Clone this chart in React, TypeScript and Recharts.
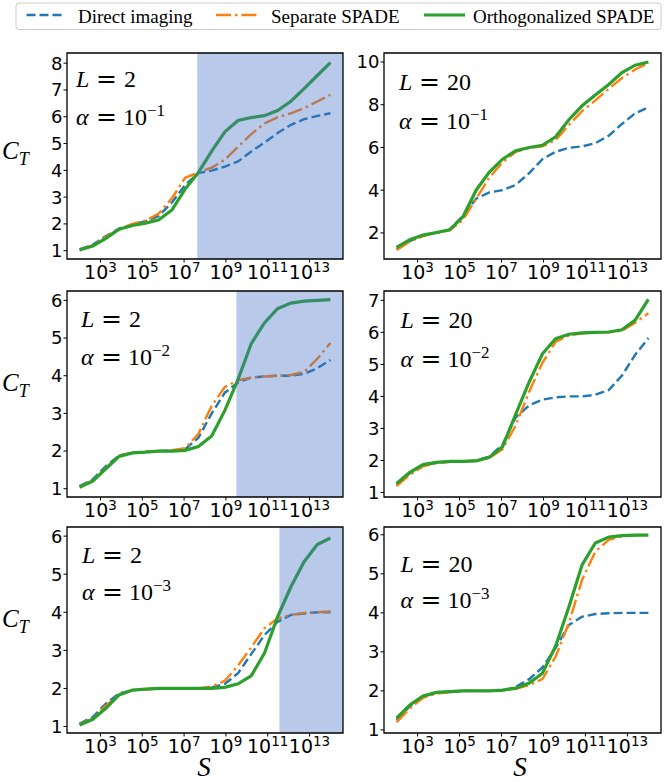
import React from "react";
import { LineChart, Line, XAxis, YAxis, ReferenceArea } from "recharts";

// log10(S) sample points
const logS = [2.0, 2.63, 3.26, 3.89, 4.53, 5.16, 5.79, 6.42, 7.05, 7.68, 8.32, 8.95, 9.58, 10.21, 10.84, 11.47, 12.11, 12.74, 13.37, 14.0];
const xTickExps = [3, 5, 7, 9, 11, 13];
const xDomain: [number, number] = [1.4, 14.6];

// L = 2, alpha = 1e-1
const directL2a1 = [1.05, 1.22, 1.55, 1.82, 1.98, 2.1, 2.3, 2.8, 3.45, 3.9, 3.99, 4.14, 4.33, 4.7, 5.03, 5.39, 5.7, 5.91, 6.03, 6.13];
const separateL2a1 = [1.05, 1.2, 1.52, 1.8, 2.0, 2.12, 2.39, 2.96, 3.72, 3.92, 4.1, 4.4, 4.88, 5.35, 5.75, 5.98, 6.13, 6.32, 6.57, 6.82];
const orthoL2a1 = [1.03, 1.17, 1.46, 1.8, 1.94, 2.03, 2.15, 2.52, 3.3, 3.92, 4.72, 5.44, 5.86, 5.97, 6.04, 6.23, 6.58, 7.05, 7.54, 8.02];

// L = 20, alpha = 1e-1
const directL20a1 = [1.25, 1.62, 1.87, 2.0, 2.15, 2.8, 3.6, 3.9, 4.0, 4.25, 4.8, 5.45, 5.8, 5.98, 6.05, 6.2, 6.55, 7.1, 7.6, 7.88];
const separateL20a1 = [1.2, 1.6, 1.85, 2.0, 2.12, 2.6, 3.6, 4.6, 5.3, 5.8, 5.98, 6.05, 6.35, 7.05, 7.7, 8.2, 8.75, 9.25, 9.65, 9.95];
const orthoL20a1 = [1.32, 1.68, 1.9, 2.02, 2.15, 2.75, 4.0, 4.85, 5.45, 5.85, 6.0, 6.1, 6.5, 7.3, 7.95, 8.45, 8.95, 9.5, 9.85, 10.0];

// L = 2, alpha = 1e-2
const directL2a2 = [1.07, 1.25, 1.6, 1.88, 1.95, 1.98, 2.0, 2.01, 2.05, 2.35, 3.0, 3.55, 3.82, 3.95, 3.98, 4.0, 4.0, 4.05, 4.2, 4.42];
const separateL2a2 = [1.05, 1.22, 1.55, 1.88, 1.95, 1.98, 2.0, 2.02, 2.08, 2.45, 3.2, 3.7, 3.88, 3.95, 3.98, 4.0, 4.02, 4.1, 4.45, 4.87];
const orthoL2a2 = [1.04, 1.2, 1.53, 1.86, 1.95, 1.97, 2.0, 2.0, 2.02, 2.12, 2.4, 3.08, 3.9, 4.85, 5.4, 5.78, 5.93, 5.98, 6.0, 6.02];

// L = 20, alpha = 1e-2
const directL20a2 = [1.25, 1.6, 1.85, 1.93, 1.96, 1.97, 2.0, 2.12, 2.5, 3.35, 3.72, 3.9, 3.97, 4.0, 4.0, 4.05, 4.2, 4.65, 5.3, 5.82];
const separateL20a2 = [1.2, 1.55, 1.82, 1.92, 1.96, 1.97, 1.99, 2.08, 2.35, 3.1, 4.15, 5.05, 5.7, 5.9, 5.97, 6.0, 6.0, 6.05, 6.3, 6.6];
const orthoL20a2 = [1.28, 1.63, 1.87, 1.94, 1.97, 1.97, 1.99, 2.1, 2.43, 3.45, 4.45, 5.33, 5.8, 5.94, 5.98, 6.0, 6.01, 6.08, 6.38, 7.03];

// L = 2, alpha = 1e-3
const directL2a3 = [1.08, 1.25, 1.6, 1.87, 1.95, 1.98, 2.0, 2.0, 2.0, 2.0, 2.03, 2.12, 2.4, 2.9, 3.4, 3.75, 3.93, 3.97, 4.0, 4.0];
const separateL2a3 = [1.07, 1.2, 1.55, 1.85, 1.95, 1.98, 2.0, 2.0, 2.0, 2.0, 2.05, 2.2, 2.6, 3.08, 3.58, 3.84, 3.93, 3.98, 4.0, 4.02];
const orthoL2a3 = [1.04, 1.19, 1.48, 1.83, 1.96, 1.98, 2.0, 2.0, 2.0, 2.0, 2.0, 2.03, 2.12, 2.33, 2.92, 3.88, 4.67, 5.33, 5.78, 5.95];

// L = 20, alpha = 1e-3
const directL20a3 = [1.25, 1.6, 1.85, 1.95, 1.98, 2.0, 2.0, 2.0, 2.0, 2.1, 2.3, 2.6, 3.1, 3.69, 3.9, 3.97, 3.99, 4.0, 4.0, 4.0];
const separateL20a3 = [1.2, 1.55, 1.82, 1.93, 1.97, 2.0, 2.0, 2.0, 2.0, 2.05, 2.15, 2.3, 2.88, 3.74, 4.85, 5.57, 5.87, 5.96, 5.99, 6.0];
const orthoL20a3 = [1.3, 1.64, 1.87, 1.96, 1.98, 2.0, 2.0, 2.0, 2.02, 2.07, 2.2, 2.45, 3.15, 4.15, 5.23, 5.79, 5.94, 5.98, 5.99, 5.99];

const seriesNames = ["Direct imaging", "Separate SPADE", "Orthogonalized SPADE"];
const BLUE = "#1f77b4";
const ORANGE = "#ff7f0e";
const GREEN = "#2ca02c";
const SERIF = "'Liberation Serif', 'DejaVu Serif', serif";

const BOX_H = 206;

const panels = [
  { left: 67, top: 53, w: 276, L: "2", exp: "\u22121", direct: directL2a1, separate: separateL2a1, ortho: orthoL2a1, yDomain: [0.69, 8.38], yTicks: [1, 2, 3, 4, 5, 6, 7, 8], shadeFrom: 7.63, tx: 76, tyL: 86.7, tyA: 125 },
  { left: 384, top: 53, w: 277, L: "20", exp: "\u22121", direct: directL20a1, separate: separateL20a1, ortho: orthoL20a1, yDomain: [0.78, 10.42], yTicks: [2, 4, 6, 8, 10], shadeFrom: null, tx: 399, tyL: 90, tyA: 129.3 },
  { left: 67, top: 291, w: 276, L: "2", exp: "\u22122", direct: directL2a2, separate: separateL2a2, ortho: orthoL2a2, yDomain: [0.78, 6.25], yTicks: [1, 2, 3, 4, 5, 6], shadeFrom: 9.5, tx: 81, tyL: 327.3, tyA: 365 },
  { left: 384, top: 291, w: 277, L: "20", exp: "\u22122", direct: directL20a2, separate: separateL20a2, ortho: orthoL20a2, yDomain: [0.86, 7.29], yTicks: [1, 2, 3, 4, 5, 6, 7], shadeFrom: null, tx: 400.5, tyL: 328.3, tyA: 366.7 },
  { left: 67, top: 527, w: 276, L: "2", exp: "\u22123", direct: directL2a3, separate: separateL2a3, ortho: orthoL2a3, yDomain: [0.83, 6.24], yTicks: [1, 2, 3, 4, 5, 6], shadeFrom: 11.56, tx: 82, tyL: 563.3, tyA: 600 },
  { left: 384, top: 527, w: 277, L: "20", exp: "\u22123", direct: directL20a3, separate: separateL20a3, ortho: orthoL20a3, yDomain: [0.92, 6.2], yTicks: [1, 2, 3, 4, 5, 6], shadeFrom: null, tx: 400.5, tyL: 571.7, tyA: 608.3 },
];

function LogTick(props: any) {
  const { x, y, payload } = props;
  return (
    <text x={x} y={y + 14.5} textAnchor="middle" fontFamily="DejaVu Sans" fontSize={19} fill="#000">
      10
      <tspan dy={-7.5} fontSize={13.5}>
        {payload.value}
      </tspan>
    </text>
  );
}

function Panel({ p }: { p: (typeof panels)[number] }) {
  const rows = logS.map((s, i) => ({
    logS: s,
    direct: p.direct[i],
    separate: p.separate[i],
    ortho: p.ortho[i],
  }));
  const axisW = 60;
  return (
    <div style={{ position: "absolute", left: p.left - axisW, top: p.top - 5 }}>
      <LineChart width={p.w + axisW + 10} height={BOX_H + 5 + 30} data={rows} margin={{ top: 5, right: 10, left: 0, bottom: 0 }}>
        <XAxis
          type="number"
          dataKey="logS"
          domain={xDomain}
          ticks={xTickExps}
          allowDataOverflow
          axisLine={false}
          tickLine={{ stroke: "#000" }}
          tickSize={3.5}
          tickMargin={2}
          tick={<LogTick />}
          height={30}
          interval={0}
        />
        <YAxis
          type="number"
          domain={p.yDomain}
          ticks={p.yTicks}
          allowDataOverflow
          axisLine={false}
          tickLine={{ stroke: "#000" }}
          tickSize={3.5}
          tickMargin={1}
          tick={{ fill: "#000", fontSize: 18, fontFamily: "DejaVu Sans" }}
          width={axisW}
          interval={0}
        />
        <Line type="linear" dataKey="direct" stroke={BLUE} strokeWidth={2.4} strokeDasharray="9 4" dot={false} isAnimationActive={false} name={seriesNames[0]} />
        <Line type="linear" dataKey="separate" stroke={ORANGE} strokeWidth={2.4} strokeDasharray="15 4 2.5 4" dot={false} isAnimationActive={false} name={seriesNames[1]} />
        <Line type="linear" dataKey="ortho" stroke={GREEN} strokeWidth={3.2} dot={false} isAnimationActive={false} name={seriesNames[2]} />
        {p.shadeFrom !== null && (
          <ReferenceArea
            x1={p.shadeFrom}
            x2={xDomain[1]}
            y1={p.yDomain[0]}
            y2={p.yDomain[1]}
            fill="#4472c4"
            fillOpacity={0.38}
            stroke="none"
            ifOverflow="visible"
            zIndex={450}
          />
        )}
        <ReferenceArea
          x1={xDomain[0]}
          x2={xDomain[1]}
          y1={p.yDomain[0]}
          y2={p.yDomain[1]}
          fill="none"
          stroke="#000"
          strokeWidth={1.3}
          ifOverflow="visible"
          zIndex={460}
        />
      </LineChart>
    </div>
  );
}

function Annotation({ p }: { p: (typeof panels)[number] }) {
  return (
    <g fontFamily={SERIF} fill="#000">
      <text x={p.tx} y={p.tyL} fontSize={24} fontStyle="italic">L</text>
      <text x={p.tx + 20} y={p.tyL} fontSize={25} fontFamily="DejaVu Sans">=</text>
      <text x={p.tx + 48} y={p.tyL} fontSize={24}>{p.L}</text>
      <text x={p.tx} y={p.tyA} fontSize={24} fontStyle="italic">α</text>
      <text x={p.tx + 20} y={p.tyA} fontSize={25} fontFamily="DejaVu Sans">=</text>
      <text x={p.tx + 47} y={p.tyA} fontSize={24}>
        10
        <tspan dy={-9} fontSize={17}>{p.exp}</tspan>
      </text>
    </g>
  );
}

export default function App() {
  const ctY = [159.3, 390.7, 626.7];
  return (
    <div style={{ position: "absolute", left: 0, top: 0, width: 666, height: 782, background: "#fff", fontFamily: "DejaVu Sans" }}>
      {panels.map((p, i) => (
        <Panel key={i} p={p} />
      ))}
      <svg width={666} height={782} style={{ position: "absolute", left: 0, top: 0, pointerEvents: "none" }}>
        {/* legend */}
        <rect x={16} y={3} width={645} height={26.5} rx={3} fill="#fff" stroke="#cccccc" strokeWidth={1} />
        <line x1={26.5} y1={15} x2={63.5} y2={15} stroke={BLUE} strokeWidth={2.4} strokeDasharray="9 4" />
        <text x={78} y={22.5} fontFamily={SERIF} fontSize={19}>{seriesNames[0]}</text>
        <line x1={216} y1={15} x2={257} y2={15} stroke={ORANGE} strokeWidth={2.4} strokeDasharray="15 4 2.5 4" />
        <text x={271} y={22.5} fontFamily={SERIF} fontSize={19}>{seriesNames[1]}</text>
        <line x1={424} y1={15} x2={465} y2={15} stroke={GREEN} strokeWidth={3.2} />
        <text x={473} y={22.5} fontFamily={SERIF} fontSize={19}>{seriesNames[2]}</text>

        {panels.map((p, i) => (
          <Annotation key={i} p={p} />
        ))}

        {ctY.map((y, i) => (
          <text key={i} x={2} y={y} fontFamily={SERIF} fontStyle="italic" fontSize={25}>
            C
            <tspan dy={6} fontSize={18}>T</tspan>
          </text>
        ))}
        <text x={204} y={776} textAnchor="middle" fontFamily={SERIF} fontStyle="italic" fontSize={27}>S</text>
        <text x={520} y={776} textAnchor="middle" fontFamily={SERIF} fontStyle="italic" fontSize={27}>S</text>
      </svg>
    </div>
  );
}
